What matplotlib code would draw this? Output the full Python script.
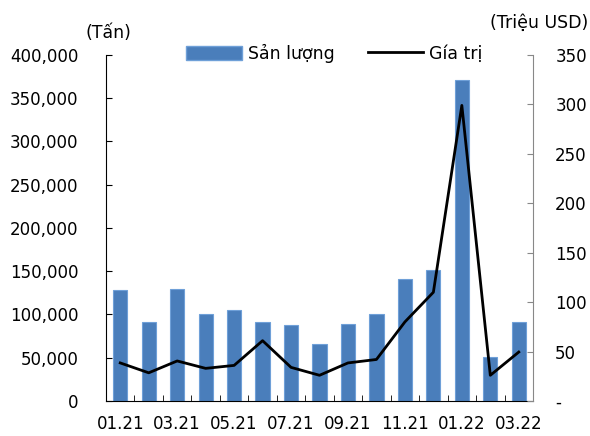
import matplotlib
matplotlib.use("Agg")
import matplotlib.pyplot as plt
import numpy as np
from matplotlib.ticker import FuncFormatter, FixedLocator
from matplotlib.lines import Line2D
from matplotlib.patches import Patch

months = ["01.21", "02.21", "03.21", "04.21", "05.21", "06.21", "07.21", "08.21",
          "09.21", "10.21", "11.21", "12.21", "01.22", "02.22", "03.22"]
volume = [128000, 91000, 130000, 101000, 105000, 91000, 88000, 66000,
          89000, 101000, 141000, 151000, 371000, 51000, 91000]
value = [38.5, 28.5, 40.5, 33, 36, 61, 34, 26, 38.5, 42, 80, 110, 299, 26, 49.5]

plt.rcParams['font.family'] = ['DejaVu Sans']
fig = plt.figure(figsize=(5.9, 4.36), dpi=100)
ax = fig.add_axes([0.1797, 0.0803, 0.7237, 0.7936])
x = np.arange(len(months))
ax.bar(x, volume, width=0.5, color="#4a7ebb", edgecolor="#6fa0d8", linewidth=0.8, zorder=2)
ax.set_xlim(-0.5, len(months) - 0.5)
ax.set_ylim(0, 400000)
ax.set_yticks(np.arange(0, 400001, 50000))
ax.yaxis.set_major_formatter(FuncFormatter(lambda v, p: f"{int(v):,}"))
ax.tick_params(axis='y', direction='in', length=4, pad=20, labelsize=12, colors='black')
ax.set_xticks(x[::2])
ax.set_xticklabels(months[::2])
ax.xaxis.set_minor_locator(FixedLocator(np.arange(-0.5, len(months), 0.5)))
ax.tick_params(axis='x', which='both', direction='in', length=4, pad=10, labelsize=12)
for s in ['top', 'right']:
    ax.spines[s].set_visible(False)
ax.spines['left'].set_color('black')
ax.spines['bottom'].set_color('black')

ax2 = ax.twinx()
ax2.plot(x, value, color='black', linewidth=2, zorder=3)
ax2.set_ylim(0, 350)
ax2.set_yticks(np.arange(0, 351, 50))
ax2.yaxis.set_major_formatter(FuncFormatter(lambda v, p: "-" if v == 0 else f"{int(v)}"))
ax2.tick_params(axis='y', direction='in', length=4, pad=16, labelsize=12, color='#888888', labelcolor='black')
for s in ['top', 'left', 'bottom']:
    ax2.spines[s].set_visible(False)
ax2.spines['right'].set_color('#888888')

fig.text(0.145, 0.925, "(Tấn)", fontsize=12.5, ha='left', va='center')
fig.text(0.997, 0.947, "(Triệu USD)", fontsize=12.5, ha='right', va='center')

handles = [Patch(facecolor="#4a7ebb", edgecolor="#6fa0d8"),
           Line2D([0], [0], color='black', linewidth=2)]
fig.legend(handles, ["Sản lượng", "Gía trị"], loc='center', bbox_to_anchor=(0.567, 0.878),
           ncol=2, frameon=False, fontsize=12.5, handlelength=3.2, handleheight=0.85,
           handletextpad=0.35, columnspacing=1.9)

fig.savefig("out.png", dpi=100)
